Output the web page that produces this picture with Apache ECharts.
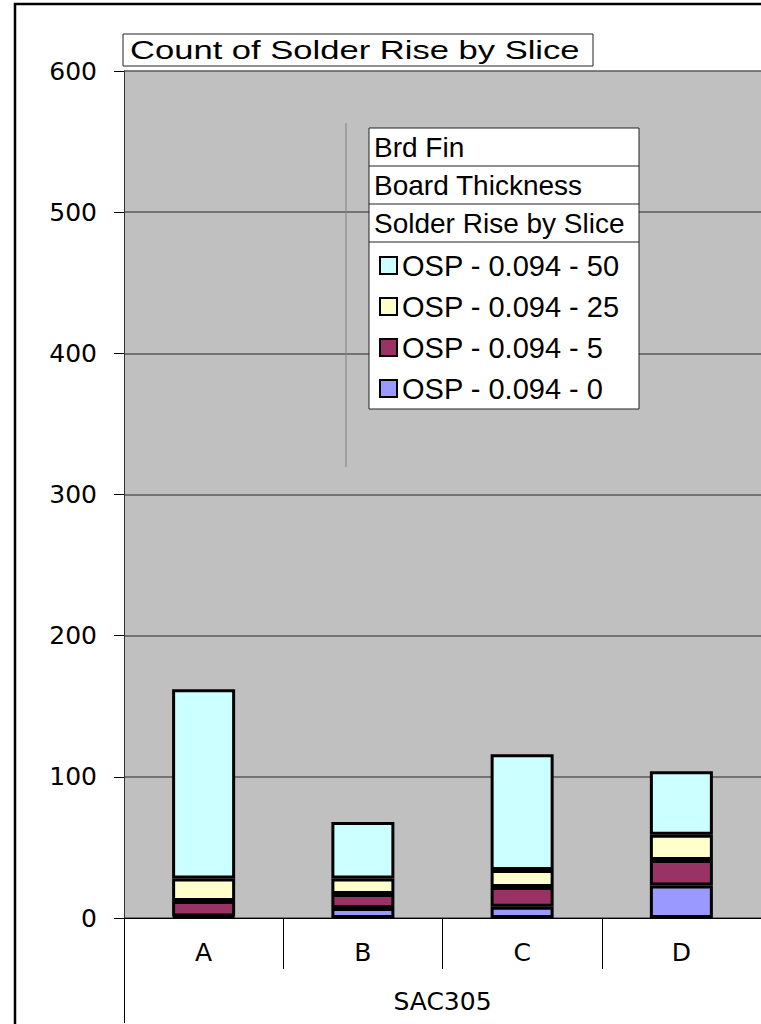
<!DOCTYPE html>
<html>
<head>
<meta charset="utf-8">
<script src="https://cdn.jsdelivr.net/npm/echarts@6/dist/echarts.min.js"></script>
<style>
  html, body { margin: 0; padding: 0; background: #fff; }
  #main { width: 761px; height: 1024px; }
</style>
</head>
<body>
<div id="main"></div>
<script>
// slices on the x axis, one solder group under them
let slices = ['A', 'B', 'C', 'D'];
let groups = ['SAC305'];
let yTicks = [0, 100, 200, 300, 400, 500, 600];

// series, bottom of the stack first
let names = ['OSP - 0.094 - 0', 'OSP - 0.094 - 5', 'OSP - 0.094 - 25', 'OSP - 0.094 - 50'];
let rise0 = [1, 7, 8, 23];
let rise5 = [11, 10, 14, 18];
let rise25 = [16, 11, 12, 18];
let rise50 = [134, 40, 82, 45];
let colors = ['#9999ff', '#993366', '#ffffcc', '#ccffff'];

let fields = ['Brd Fin', 'Board Thickness', 'Solder Rise by Slice'];
let titleText = 'Count of Solder Rise by Slice';

let wide = 'DejaVu Sans';
let arial = '"Liberation Sans", Arial, sans-serif';

let chart = echarts.init(document.getElementById('main'), null, { renderer: 'svg' });

let series = [rise0, rise5, rise25, rise50].map((vals, i) => ({
    name: names[i],
    type: 'bar',
    stack: 'total',
    xAxisIndex: 0,
    barWidth: 63,
    data: vals,
    itemStyle: { color: colors[i], borderColor: '#000', borderWidth: 3 }
}));

// pivot field buttons above the legend
let fieldBox = [{
    type: 'rect',
    z: 3,
    shape: { x: 369, y: 128, width: 270, height: 281 },
    style: { fill: '#fff', stroke: '#222', lineWidth: 1 }
}];
fields.forEach((f, i) => {
    fieldBox.push({
        type: 'line',
        z: 3,
        shape: { x1: 369, y1: 166 + i * 38, x2: 639, y2: 166 + i * 38 },
        style: { stroke: '#222', lineWidth: 1 }
    });
    fieldBox.push({
        type: 'text',
        z: 3,
        x: 374,
        y: 147 + i * 38,
        style: { text: f, fontSize: 28, fontFamily: arial, fill: '#000', verticalAlign: 'middle' }
    });
});

let option = {
    animation: false,
    backgroundColor: '#fff',
    grid: {
        left: 124, right: 0, top: 71, bottom: 106,
        show: true, backgroundColor: '#c0c0c0', borderWidth: 0
    },
    xAxis: [{
        type: 'category',
        data: slices,
        position: 'bottom',
        axisLine: { show: true, lineStyle: { color: '#000', width: 1 } },
        axisTick: { show: true, interval: 0, length: 51, lineStyle: { color: '#000', width: 1 } },
        axisLabel: { margin: 22, fontSize: 25, fontFamily: wide, color: '#000' },
        splitLine: { show: false }
    }, {
        type: 'category',
        data: groups,
        position: 'bottom',
        offset: 51,
        axisLine: { show: false },
        axisTick: { show: true, interval: 0, length: 54, lineStyle: { color: '#000', width: 1 } },
        axisLabel: { margin: 20, fontSize: 25, fontFamily: wide, color: '#000' },
        splitLine: { show: false }
    }],
    yAxis: {
        type: 'value',
        min: yTicks[0],
        max: yTicks[yTicks.length - 1],
        interval: yTicks[1] - yTicks[0],
        axisLine: { show: true, lineStyle: { color: '#333', width: 1 } },
        axisTick: { show: true, length: 10, lineStyle: { color: '#000', width: 1 } },
        axisLabel: { margin: 27, fontSize: 25, fontFamily: wide, color: '#000' },
        splitLine: { show: true, lineStyle: { color: '#5a5a5a', width: 1.5 } }
    },
    legend: {
        data: names.slice().reverse(),
        orient: 'vertical',
        left: 379,
        top: 251,
        padding: 0,
        itemGap: 12,
        itemWidth: 17,
        itemHeight: 17,
        icon: 'rect',
        selectedMode: false,
        itemStyle: { borderColor: '#000', borderWidth: 2 },
        textStyle: { fontSize: 29, fontFamily: arial, color: '#000' }
    },
    graphic: [{
        // outer chart frame
        type: 'rect',
        z: 5,
        shape: { x: 15, y: 4, width: 900, height: 1100 },
        style: { fill: 'none', stroke: '#000', lineWidth: 2.5 }
    }, {
        type: 'rect',
        z: 3,
        shape: { x: 123, y: 34, width: 470, height: 32 },
        style: { fill: '#fff', stroke: '#222', lineWidth: 1 }
    }, {
        type: 'text',
        z: 3,
        x: 130,
        y: 50,
        scaleX: 1.33,
        style: { text: titleText, fontSize: 26, fontFamily: arial, fill: '#000', verticalAlign: 'middle' }
    }, {
        // leftover drag line behind the field buttons
        type: 'line',
        z: 3,
        shape: { x1: 346, y1: 123, x2: 346, y2: 467 },
        style: { stroke: '#808080', lineWidth: 1 }
    }].concat(fieldBox),
    series: series
};

chart.setOption(option);
</script>
</body>
</html>
